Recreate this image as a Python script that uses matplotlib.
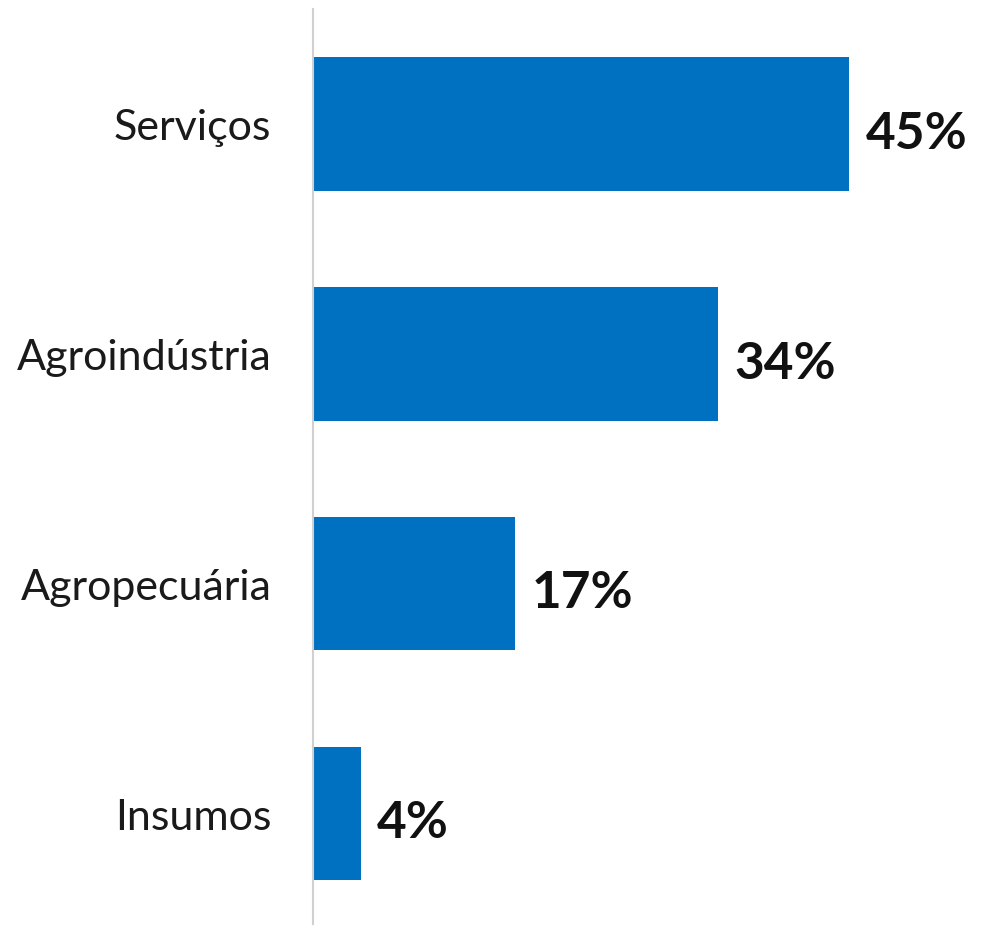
import matplotlib.pyplot as plt

categories = ['Serviços', 'Agroindústria', 'Agropecuária', 'Insumos']
values = [45, 34, 17, 4]
labels = ['45%', '34%', '17%', '4%']

plt.rcParams['font.family'] = ['Lato', 'DejaVu Sans']

fig = plt.figure(figsize=(9.82, 9.28), dpi=100)
ax = fig.add_axes([313 / 982, 3 / 928, 669 / 982, 915 / 928])

y = range(len(categories))
bars = ax.barh(y, values, height=0.58, color='#0070C0')

for bar, lab in zip(bars, labels):
    ax.text(bar.get_width() + 1.4, bar.get_y() + bar.get_height() / 2 + 0.04, lab,
            va='center', ha='left', fontsize=37, fontweight='bold', color='#111111')

ax.set_xlim(0, 56.2)
ax.set_ylim(3.48, -0.5)
ax.set_yticks(list(y))
ax.set_yticklabels(categories, fontsize=31, color='#1a1a1a')
ax.tick_params(axis='y', length=0, pad=30)
ax.set_xticks([])
for s in ['top', 'right', 'bottom']:
    ax.spines[s].set_visible(False)
ax.spines['left'].set_color('#d0d0d0')
ax.spines['left'].set_linewidth(1.5)

fig.savefig('out.png', dpi=100)
